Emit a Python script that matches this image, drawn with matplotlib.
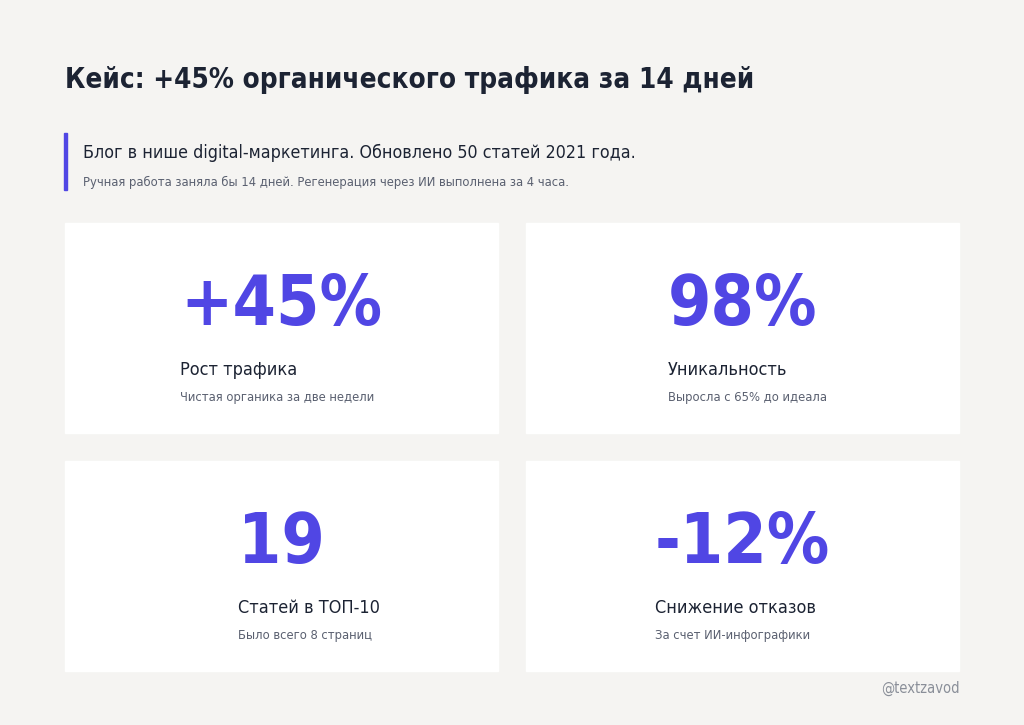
import matplotlib
matplotlib.use("Agg")
import matplotlib.pyplot as plt
from matplotlib.patches import Rectangle
from matplotlib import font_manager as fm

title = "Кейс: +45% органического трафика за 14 дней"
subtitle1 = "Блог в нише digital-маркетинга. Обновлено 50 статей 2021 года."
subtitle2 = "Ручная работа заняла бы 14 дней. Регенерация через ИИ выполнена за 4 часа."
values = ["+45%", "98%", "19", "-12%"]
labels = ["Рост трафика", "Уникальность", "Статей в ТОП-10", "Снижение отказов"]
sublabels = ["Чистая органика за две недели", "Выросла с 65% до идеала",
             "Было всего 8 страниц", "За счет ИИ-инфографики"]
credit = "@textzavod"

names = {f.name for f in fm.fontManager.ttflist}
FONT = "Liberation Sans Narrow" if "Liberation Sans Narrow" in names else "DejaVu Sans"
STRETCH = "normal" if FONT == "Liberation Sans Narrow" else "condensed"

BG = "#f5f4f2"; DARK = "#1c2333"; GRAY = "#5a6070"; ACC = "#5046e4"
fig = plt.figure(figsize=(10.24, 7.25), dpi=100, facecolor=BG)
ax = fig.add_axes([0, 0, 1, 1]); ax.set_xlim(0, 1024); ax.set_ylim(725, 0); ax.axis("off")
kw = dict(family=FONT, fontstretch=STRETCH)

ax.text(65, 80, title, fontsize=20, fontweight="bold", color=DARK, va="center", **kw)
ax.add_patch(Rectangle((64, 133), 3, 57, color=ACC))
ax.text(83, 153, subtitle1, fontsize=12.8, color=DARK, va="center", **kw)
ax.text(83, 182, subtitle2, fontsize=9.3, color=GRAY, va="center", **kw)

cards = [(65, 223), (526, 223), (65, 461), (526, 461)]
W, H = 433, 210
fig.canvas.draw()
r = fig.canvas.get_renderer()
for (x, y), v, l, s in zip(cards, values, labels, sublabels):
    ax.add_patch(Rectangle((x, y), W, H, color="white"))
    t = ax.text(x + W / 2, y + 102, v, fontsize=50, fontweight="bold", color=ACC,
                ha="center", va="baseline", **kw)
    bb = t.get_window_extent(r)
    lx = bb.x0
    ax.text(lx, y + 147, l, fontsize=13, color=DARK, va="center", **kw)
    ax.text(lx, y + 174, s, fontsize=9.3, color=GRAY, va="center", **kw)

ax.text(960, 688, credit, fontsize=10.5, color="#8a8f99", ha="right", va="center", **kw)
fig.savefig("out.png", dpi=100, facecolor=BG)
